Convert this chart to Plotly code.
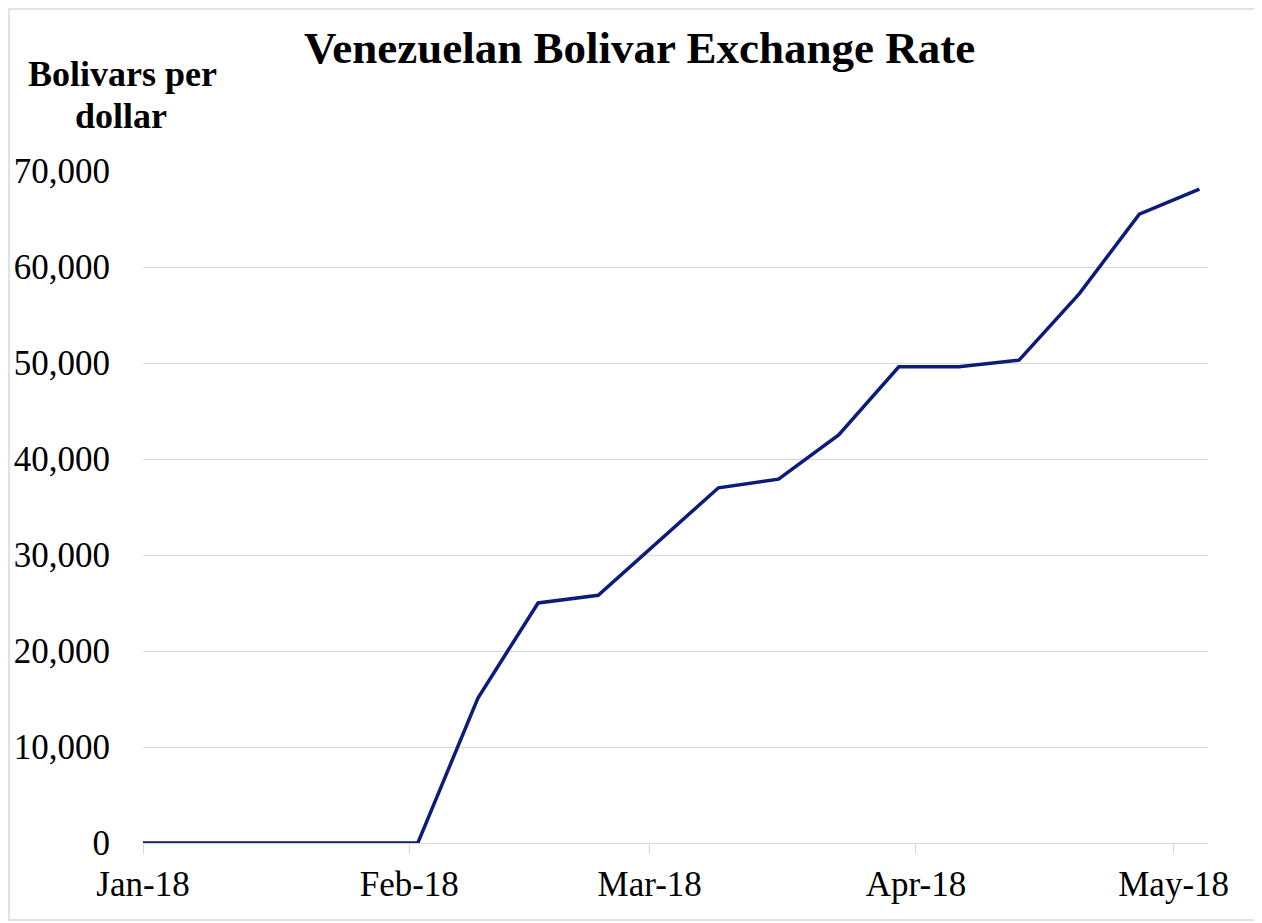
import plotly.graph_objects as go

dates = ["2018-01-01", "2018-01-05", "2018-01-12", "2018-01-19", "2018-01-26",
         "2018-02-02", "2018-02-09", "2018-02-16", "2018-02-23",
         "2018-03-09", "2018-03-16", "2018-03-23", "2018-03-30",
         "2018-04-06", "2018-04-13", "2018-04-20", "2018-04-27", "2018-05-04"]
rates = [10, 10, 10, 10, 10,
         10, 15100, 25000, 25800,
         37000, 37900, 42500, 49600,
         49600, 50300, 57200, 65500, 68100]

title_text = "Venezuelan Bolivar Exchange Rate"
ytitle_lines = ["Bolivars per", "dollar"]

# page body has an 8px margin; work in reference-image pixels and shift
OFF = 8
W, H = 1262 - OFF, 923 - OFF
L, R, T, B = 143 - OFF, 1208 - OFF, 171 - OFF, 843 - OFF

def px(x):
    return (x - OFF - L) / (R - L)

def py(y):
    return (B - (y - OFF)) / (B - T)

FONT = "Liberation Serif"

fig = go.Figure()
fig.add_trace(go.Scatter(
    x=dates, y=rates, mode="lines",
    line=dict(color="#0c1c78", width=3.5),
    hoverinfo="x+y", showlegend=False,
))

fig.update_layout(
    width=W, height=H,
    margin=dict(l=L, r=W - R, t=T, b=H - B, pad=0),
    paper_bgcolor="white", plot_bgcolor="white",
    font=dict(family=FONT, color="black"),
    xaxis=dict(
        type="date", automargin=False,
        range=["2018-01-01", "2018-05-05"],
        tick0="2018-01-01", dtick="M1", tickformat="%b-%y",
        showgrid=False, zeroline=False, showline=False,
        ticks="outside", ticklen=10, tickcolor="#d9d9d9", tickwidth=1,
        tickfont=dict(family=FONT, size=35, color="black"),
    ),
    yaxis=dict(
        automargin=False,
        range=[0, 70000], dtick=10000, tickformat=",",
        showgrid=True, gridcolor="#d9d9d9", gridwidth=1,
        zeroline=True, zerolinecolor="#d9d9d9", zerolinewidth=1,
        showline=False, ticks="",
        ticklabelstandoff=32,
        tickfont=dict(family=FONT, size=35, color="black"),
    ),
    annotations=[
        dict(text="<b>" + title_text + "</b>", xref="paper", yref="paper",
             x=px(639), y=py(48), xanchor="center", yanchor="middle",
             showarrow=False, font=dict(family=FONT, size=45, color="black")),
        dict(text="<b>" + ytitle_lines[0] + "</b>", xref="paper", yref="paper",
             x=px(122), y=py(95), xanchor="center", yanchor="bottom",
             borderpad=0, showarrow=False,
             font=dict(family=FONT, size=36, color="black")),
        dict(text="<b>" + ytitle_lines[1] + "</b>", xref="paper", yref="paper",
             x=px(121), y=py(95), xanchor="center", yanchor="top",
             borderpad=0, showarrow=False,
             font=dict(family=FONT, size=36, color="black")),
    ],
    shapes=[
        dict(type="rect", xref="paper", yref="paper",
             x0=px(9), x1=px(1260), y0=py(920), y1=py(9),
             line=dict(color="#d9d9d9", width=1.5), fillcolor="rgba(0,0,0,0)",
             layer="below"),
    ],
)

fig.write_html("out.html")
